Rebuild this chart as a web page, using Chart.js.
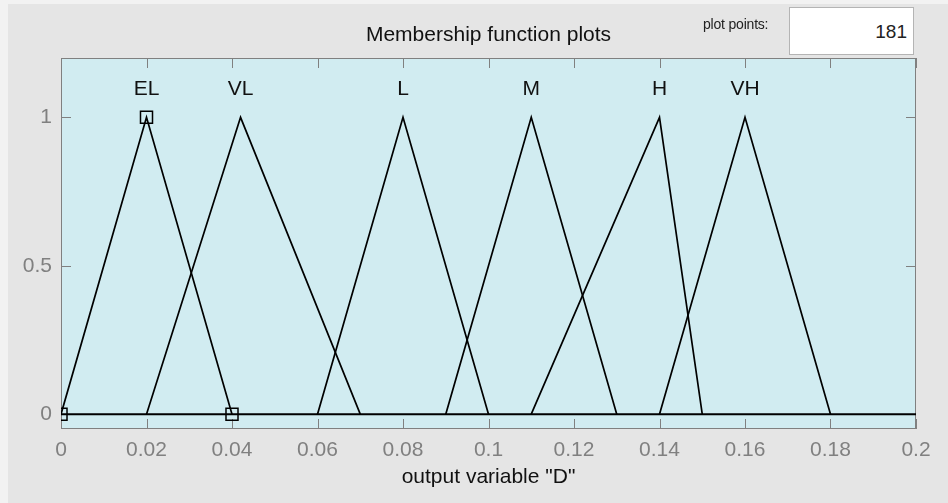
<!DOCTYPE html>
<html lang="en">
<head>
    <meta charset="UTF-8">
    <title>Membership function plots</title>
    <style>
        body {
            margin: 0;
            padding: 0;
            background: #f2f2f2;
            font-family: "Liberation Sans", Arial, sans-serif;
        }
        .wrap {
            position: relative;
            width: 948px;
            height: 503px;
        }
        .points-label {
            position: absolute;
            left: 703px;
            top: 16px;
            font-size: 14px;
            letter-spacing: -0.2px;
            color: #222;
        }
        .points-box {
            position: absolute;
            left: 789px;
            top: 7px;
            width: 125px;
            height: 48px;
            background: #fff;
            border: 1px solid #b4b4b4;
            box-sizing: border-box;
            font-size: 19px;
            color: #222;
            text-align: right;
            padding-right: 6px;
            line-height: 48px;
        }
    </style>
</head>
<body>
    <div class="wrap">
        <canvas id="mfChart" width="948" height="503"></canvas>
        <div class="points-label">plot points:</div>
        <div class="points-box" id="pointsBox"></div>
    </div>

    <script src="https://cdn.jsdelivr.net/npm/chart.js"></script>
    <script>
        // Données des fonctions d'appartenance (triangles)
        const mfNames = ['EL', 'VL', 'L', 'M', 'H', 'VH'];
        const mfStart = [0, 0.02, 0.06, 0.09, 0.11, 0.14];
        const mfPeak = [0.02, 0.042, 0.08, 0.11, 0.14, 0.16];
        const mfEnd = [0.04, 0.07, 0.1, 0.13, 0.15, 0.18];
        const xRange = [0, 0.2];
        const xStep = 0.02;
        const yTicks = [0, 0.5, 1];
        const plotPoints = 181;
        const selectedMf = 0; // EL is selected (square markers)

        document.getElementById('pointsBox').textContent = plotPoints;

        const FONT = '"Liberation Sans", Arial, sans-serif';
        const GRAY = '#808080';

        const datasets = mfNames.map((name, i) => ({
            label: name,
            data: [
                { x: mfStart[i], y: 0 },
                { x: mfPeak[i], y: 1 },
                { x: mfEnd[i], y: 0 }
            ],
            showLine: true,
            borderColor: '#000',
            borderWidth: 1.7,
            pointRadius: i === selectedMf ? 8.5 : 0,
            pointStyle: 'rect',
            pointBackgroundColor: 'rgba(0,0,0,0)',
            pointBorderColor: '#000',
            pointBorderWidth: 1.5,
            clip: 0
        }));

        // ligne de base y = 0
        datasets.push({
            label: 'base',
            data: [{ x: xRange[0], y: 0 }, { x: xRange[1], y: 0 }],
            showLine: true,
            borderColor: '#000',
            borderWidth: 2,
            pointRadius: 0
        });

        // Fonds, bordure, graduations vers l'intérieur, titres
        const matlabLook = {
            id: 'matlabLook',
            beforeDraw(chart) {
                const { ctx, chartArea: a } = chart;
                ctx.save();
                ctx.fillStyle = '#f2f2f2';
                ctx.fillRect(0, 0, chart.width, chart.height);
                ctx.fillStyle = '#e5e5e5';
                ctx.fillRect(8, 4, chart.width - 8, chart.height - 4);
                ctx.fillStyle = '#d1ecf1';
                ctx.fillRect(a.left, a.top, a.right - a.left, a.bottom - a.top);
                ctx.restore();
            },
            beforeDatasetsDraw(chart) {
                const { ctx, chartArea: a, scales: { x, y } } = chart;
                ctx.save();
                ctx.strokeStyle = GRAY;
                ctx.lineWidth = 1;
                ctx.beginPath();
                x.ticks.forEach(t => {
                    const px = Math.round(x.getPixelForValue(t.value)) + 0.5;
                    ctx.moveTo(px, a.bottom); ctx.lineTo(px, a.bottom - 10);
                    ctx.moveTo(px, a.top); ctx.lineTo(px, a.top + 10);
                });
                y.ticks.forEach(t => {
                    const py = Math.round(y.getPixelForValue(t.value)) + 0.5;
                    ctx.moveTo(a.left, py); ctx.lineTo(a.left + 10, py);
                    ctx.moveTo(a.right, py); ctx.lineTo(a.right - 10, py);
                });
                ctx.stroke();
                ctx.strokeRect(a.left + 0.5, a.top + 0.5, a.right - a.left - 1, a.bottom - a.top - 1);
                ctx.restore();
            },
            afterDraw(chart) {
                const { ctx, chartArea: a, scales: { x, y } } = chart;
                ctx.save();
                ctx.fillStyle = '#111';
                ctx.textAlign = 'center';
                ctx.textBaseline = 'alphabetic';
                ctx.font = '21px ' + FONT;
                ctx.fillText('Membership function plots', (a.left + a.right) / 2, a.top - 17);
                mfNames.forEach((name, i) => {
                    ctx.fillText(name, x.getPixelForValue(mfPeak[i]), y.getPixelForValue(1.075));
                });
                ctx.restore();
            }
        };

        new Chart(document.getElementById('mfChart').getContext('2d'), {
            type: 'scatter',
            data: { datasets: datasets },
            options: {
                responsive: false,
                animation: false,
                layout: {
                    padding: { left: 0, top: 58, right: 32, bottom: 0 }
                },
                plugins: {
                    legend: { display: false },
                    tooltip: { enabled: false }
                },
                scales: {
                    x: {
                        type: 'linear',
                        min: xRange[0],
                        max: xRange[1],
                        grid: { display: false, drawTicks: false },
                        border: { display: false },
                        ticks: {
                            stepSize: xStep,
                            color: GRAY,
                            padding: 9,
                            maxRotation: 0,
                            autoSkip: false,
                            font: { size: 21, family: FONT },
                            callback: v => String(+v.toFixed(3))
                        },
                        title: {
                            display: true,
                            text: 'output variable "D"',
                            color: '#111',
                            font: { size: 21, family: FONT },
                            padding: { top: 0, bottom: 13 }
                        },
                        afterFit(scale) { scale.height = 74; }
                    },
                    y: {
                        type: 'linear',
                        min: -0.05,
                        max: 1.2,
                        grid: { display: false, drawTicks: false },
                        border: { display: false },
                        afterBuildTicks(scale) {
                            scale.ticks = yTicks.map(v => ({ value: v }));
                        },
                        ticks: {
                            color: GRAY,
                            padding: 9,
                            font: { size: 21, family: FONT },
                            callback: v => String(v)
                        },
                        afterFit(scale) { scale.width = 61; }
                    }
                }
            },
            plugins: [matlabLook]
        });
    </script>
</body>
</html>
